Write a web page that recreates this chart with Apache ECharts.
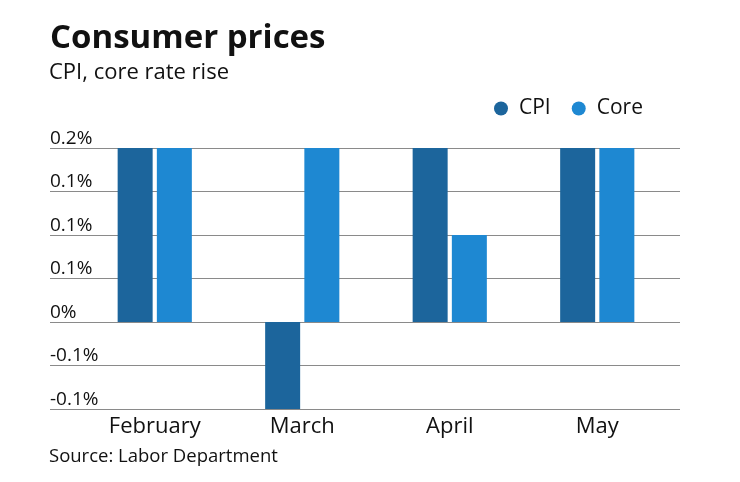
<!DOCTYPE html>
<html>
<head>
<meta charset="utf-8">
<script src="https://cdn.jsdelivr.net/npm/echarts@6/dist/echarts.min.js"></script>
<style>html,body{margin:0;padding:0;background:#fff;}#c{width:740px;height:482px;}</style>
</head>
<body>
<div id="c"></div>
<script>
const categories = ['February', 'March', 'April', 'May'];
const cpiValues = [0.2, -0.1, 0.2, 0.2];
const coreValues = [0.2, 0.2, 0.1, 0.2];
const yTickLabels = ['-0.1%', '-0.1%', '0%', '0.1%', '0.1%', '0.1%', '0.2%'];
const yMin = -0.1, yMax = 0.2, yStep = 0.05;

const FONT = 'Open Sans';
const chart = echarts.init(document.getElementById('c'));
const fmt = v => yTickLabels[Math.round((v - yMin) / yStep)] || '';

chart.setOption({
  backgroundColor: '#fff',
  title: [
    { text: 'Consumer prices', left: 45, top: 17,
      textStyle: { fontFamily: FONT, fontWeight: 'bold', fontSize: 33, color: '#111' } },
    { text: 'CPI, core rate rise', left: 44, top: 57,
      textStyle: { fontFamily: FONT, fontWeight: 'normal', fontSize: 22, color: '#111' } },
    { text: 'Source: Labor Department', left: 44, top: 442,
      textStyle: { fontFamily: FONT, fontWeight: 'normal', fontSize: 18.5, color: '#111' } }
  ],
  legend: {
    left: 489, top: 93, icon: 'circle', itemWidth: 14, itemHeight: 14, itemGap: 21,
    textStyle: { fontFamily: FONT, fontSize: 21, color: '#111', padding: [0, 0, 0, 6] },
    data: ['CPI', 'Core']
  },
  grid: [
    { left: 50, right: 60, top: 148, bottom: 73 },
    { left: 81, right: 69, top: 148, bottom: 73 }
  ],
  xAxis: [
    { type: 'category', gridIndex: 0, data: categories, show: false },
    { type: 'category', gridIndex: 1, data: categories,
      axisLine: { show: false }, axisTick: { show: false },
      axisLabel: { fontFamily: FONT, fontSize: 22, color: '#111', margin: 7 } }
  ],
  yAxis: [
    { type: 'value', gridIndex: 0, min: yMin, max: yMax, interval: yStep,
      axisLine: { show: false }, axisTick: { show: false },
      splitLine: { lineStyle: { color: '#8a8a8a', width: 1 } },
      axisLabel: { inside: true, margin: 0, align: 'left', verticalAlign: 'bottom',
        padding: [0, 0, 0, 0], fontFamily: FONT, fontSize: 19, color: '#111', formatter: fmt } },
    { type: 'value', gridIndex: 1, min: yMin, max: yMax, interval: yStep, show: false,
      splitLine: { show: false } }
  ],
  series: [
    { name: 'CPI', type: 'bar', xAxisIndex: 1, yAxisIndex: 1, data: cpiValues,
      barWidth: 35, barGap: '12%', itemStyle: { color: '#1c659c' } },
    { name: 'Core', type: 'bar', xAxisIndex: 1, yAxisIndex: 1, data: coreValues,
      barWidth: 35, barGap: '12%', itemStyle: { color: '#1e88d2' } }
  ]
});
</script>
</body>
</html>
